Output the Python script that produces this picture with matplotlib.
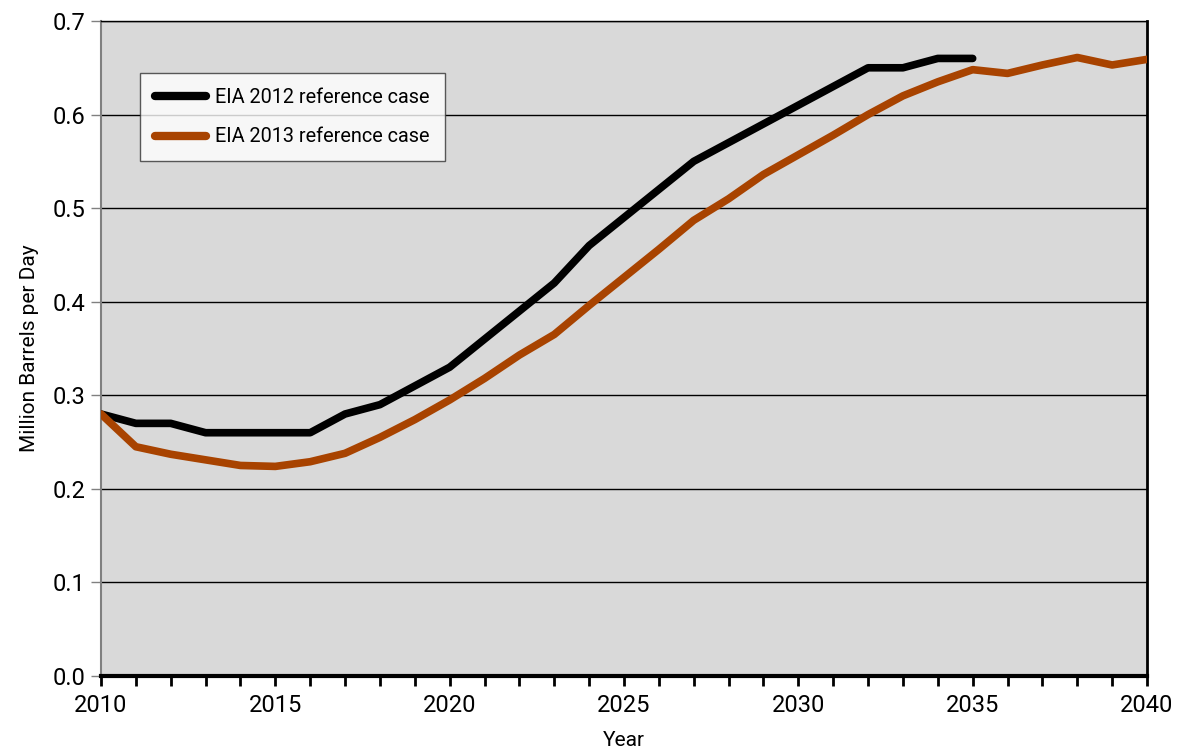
import matplotlib
matplotlib.use('Agg')
import matplotlib.pyplot as plt
from matplotlib.ticker import MultipleLocator, FormatStrFormatter

plt.rcParams['font.family'] = ['Roboto', 'DejaVu Sans']

# data
years_2012 = list(range(2010, 2036))
eia_2012 = [0.28, 0.27, 0.27, 0.26, 0.26, 0.26, 0.26, 0.28, 0.29, 0.31,
            0.33, 0.36, 0.39, 0.42, 0.46, 0.49, 0.52, 0.55, 0.57, 0.59,
            0.61, 0.63, 0.65, 0.65, 0.66, 0.66]
years_2013 = list(range(2010, 2041))
eia_2013 = [0.28, 0.245, 0.237, 0.231, 0.225, 0.224, 0.229, 0.238, 0.255, 0.274,
            0.295, 0.318, 0.343, 0.365, 0.396, 0.426, 0.456, 0.487, 0.510, 0.536,
            0.557, 0.578, 0.600, 0.620, 0.635, 0.648, 0.644, 0.653, 0.661, 0.653,
            0.659]
labels = ['EIA 2012 reference case', 'EIA 2013 reference case']

fig = plt.figure(figsize=(11.82, 7.55), dpi=100)
ax = fig.add_axes([101 / 1182, 1 - 676 / 755, 1046 / 1182, 655 / 755])
ax.set_facecolor('#D9D9D9')

ax.plot(years_2012, eia_2012, color='black', lw=5.5, solid_capstyle='round',
        label=labels[0], zorder=3)
ax.plot(years_2013, eia_2013, color='#A84300', lw=5.5, solid_capstyle='round',
        label=labels[1], zorder=3)

ax.set_xlim(2010, 2040)
ax.set_ylim(0, 0.7)
ax.xaxis.set_major_locator(MultipleLocator(5))
ax.xaxis.set_minor_locator(MultipleLocator(1))
ax.yaxis.set_major_locator(MultipleLocator(0.1))
ax.yaxis.set_major_formatter(FormatStrFormatter('%.1f'))
ax.yaxis.grid(True, color='black', lw=1)
ax.set_axisbelow(True)

ax.tick_params(axis='x', which='both', direction='out', length=7, width=2,
               color='black', labelsize=17, pad=6)
ax.tick_params(axis='y', direction='out', length=7, width=1, color='#808080',
               labelsize=17, pad=4)

ax.spines['bottom'].set_linewidth(3)
ax.spines['left'].set_color('#808080')
ax.spines['left'].set_linewidth(1.5)
ax.spines['right'].set_linewidth(2)
ax.spines['top'].set_linewidth(1)

ax.set_xlabel('Year', fontsize=15, labelpad=10)
ax.set_ylabel('Million Barrels per Day', fontsize=15, labelpad=10)

leg = ax.legend(loc='upper left', bbox_to_anchor=(0.037, 0.921), fontsize=14.3,
                frameon=True, fancybox=False, edgecolor='#333333',
                handlelength=2.6, handletextpad=0.45, borderpad=0.75,
                labelspacing=1.05, borderaxespad=0)
leg.get_frame().set_linewidth(1)
for line in leg.get_lines():
    line.set_linewidth(6)

fig.savefig('out.png', dpi=100)
